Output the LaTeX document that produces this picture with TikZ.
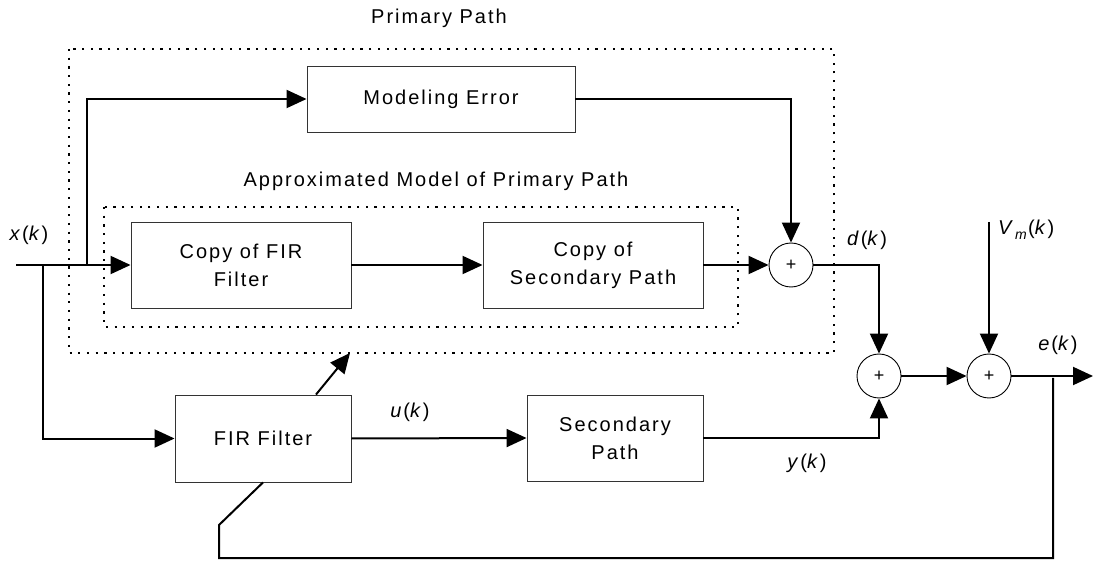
\documentclass[tikz,border=0pt]{standalone}
\usepackage{fontspec}
\setmainfont{Liberation Sans}[LetterSpace=10]
\usetikzlibrary{arrows.meta}
\newcommand{\sig}[1]{\textit{#1}(\textit{k})}
\begin{document}
\begin{tikzpicture}[x=1pt,y=-1pt,
  font=\fontsize{20}{28}\selectfont,
  blockbox/.style={draw=black!80, line width=0.9pt, rectangle, align=center, inner sep=0pt},
  sumnode/.style={draw=black, line width=0.9pt, circle, minimum size=44pt, inner sep=0pt, font=\fontsize{18}{18}\selectfont},
  wire/.style={line width=2pt, black},
  arr/.style={wire, -{Triangle[length=20pt,width=18pt]}},
  dotbox/.style={line width=1.8pt, dash pattern=on 2.2pt off 6.5pt},
  lbl/.style={inner sep=0pt}]
\useasboundingbox (0,0) rectangle (1093,569);

% dotted groupings
\draw[dotbox] (69,49) rectangle (834,353);
\draw[dotbox] (104,207) rectangle (738,327);
\node[lbl] (tprim) at (439,18) {Primary Path};
\node[lbl] (tappr) at (436,181) {Approximated Model of Primary Path};

% blocks
\node[blockbox, minimum width=268pt, minimum height=66pt] (moderr) at (441,99) {Modeling Error};
\node[blockbox, minimum width=220pt, minimum height=86pt] (copyfir) at (241,265) {Copy of FIR\\Filter};
\node[blockbox, minimum width=220pt, minimum height=86pt] (copysec) at (593,265) {Copy of\\Secondary Path};
\node[blockbox, minimum width=176pt, minimum height=87pt] (fir) at (263,438.5) {FIR Filter};
\node[blockbox, minimum width=176pt, minimum height=86pt] (sec) at (615,438) {Secondary\\Path};

% summing junctions
\node[sumnode] (s1) at (791,265) {+};
\node[sumnode] (s2) at (879,376) {+};
\node[sumnode] (s3) at (989,376) {+};

% helper points
\coordinate (xin) at (16,265);
\coordinate (bu) at (87,265);
\coordinate (bd) at (43,265);
\coordinate (vm) at (989,222);
\coordinate (eout) at (1093,376);
\coordinate (fb) at (1053,376);
\coordinate (adapt) at (350,353);

% signal labels
\node[lbl] (lx) at (29,235) {\sig{x}};
\node[lbl] (ld) at (867,240) {\sig{d}};
\node[lbl, anchor=west] (lv) at (998,230) {\textit{V}\raisebox{-5pt}{\fontsize{14}{14}\selectfont\textit{m}}(\textit{k})};
\node[lbl] (le) at (1058,345) {\sig{e}};
\node[lbl] (lu) at (410,412) {\sig{u}};
\node[lbl] (ly) at (807,463) {\sig{y}};

% connections
\draw[arr] (xin) -- (copyfir.west);
\draw[arr] (bu) |- (moderr.west);
\draw[arr] (bd) |- (fir.west);
\draw[arr] (copyfir.east) -- (copysec.west);
\draw[arr] (copysec.east) -- (s1.west);
\draw[arr] (moderr.east) -| (s1.north);
\draw[arr] (s1.east) -| (s2.north);
\draw[arr] (fir.east) -- (sec.west);
\draw[arr] (sec.east) -| (s2.south);
\draw[arr] (s2.east) -- (s3.west);
\draw[arr] (vm) -- (s3.north);
\draw[arr] (s3.east) -- (eout);
\draw[arr] ([xshift=53pt]fir.north) -- (adapt);
\draw[wire] ([yshift=-2pt]fb) -- (1053,558) -- (219,558) -- (219,525) -- (fir.south);
\end{tikzpicture}
\end{document}
